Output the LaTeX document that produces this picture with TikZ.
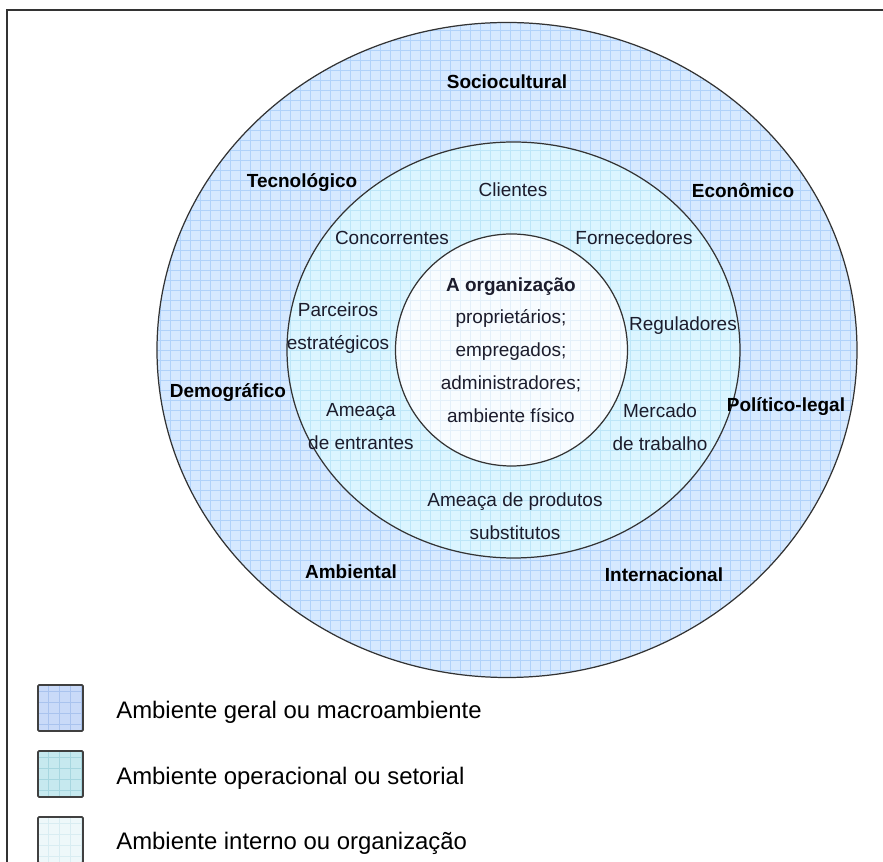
\documentclass[tikz,border=0pt]{standalone}
\usepackage{fontspec}
\setmainfont{Liberation Sans}
\usepackage{tikz}
\usepackage{xcolor}
\usetikzlibrary{calc, positioning}
\definecolor{geralfill}{HTML}{D6E9FF}
\definecolor{geralgrid}{HTML}{B0D2FA}
\definecolor{operfill}{HTML}{DBF5FF}
\definecolor{opergrid}{HTML}{BDE6F8}
\definecolor{internofill}{HTML}{F8FCFF}
\definecolor{internogrid}{HTML}{E4F0FA}
\definecolor{leg1fill}{HTML}{C9DAF8}
\definecolor{leg1grid}{HTML}{A9C3EE}
\definecolor{leg2fill}{HTML}{C6E9EF}
\definecolor{leg2grid}{HTML}{A6D6DF}
\definecolor{leg3fill}{HTML}{EEF8FA}
\definecolor{leg3grid}{HTML}{D9EDF2}
\definecolor{rotulo}{HTML}{1C1C2C}
\newcommand{\fator}[1]{\textbf{#1}}

\begin{document}
\begin{tikzpicture}[
    rotulo/.style={text=rotulo, align=center, inner sep=1pt, font=\fontsize{10.8}{18.7}\selectfont},
    fatorbox/.style={rotulo, text=black},
    legtexto/.style={anchor=west, text=black, inner sep=0pt, font=\fontsize{13.6}{16}\selectfont},
    anel/.style={draw=black!80, line width=0.7pt},
    legbox/.style={draw=black!75, line width=1pt, rounded corners=0.6pt}
]
\useasboundingbox (-10.2,-10.24) rectangle (7.46,7.0);

% moldura
\draw[black!80, line width=0.8pt] (-10.06,-10.4) -- (-10.06,6.8) -- (7.6,6.8);

% ambiente geral
\begin{scope}
    \clip (-0.06,0) ellipse [x radius=7, y radius=6.55];
    \fill[geralfill] (-7.1,-6.6) rectangle (7.1,6.6);
    \draw[geralgrid, line width=0.3pt, step=0.2] (-7.1,-6.6) grid (7.1,6.6);
\end{scope}
% ambiente operacional
\begin{scope}
    \clip (0.07,0) ellipse [x radius=4.53, y radius=4.16];
    \fill[operfill] (-4.6,-4.2) rectangle (4.7,4.2);
    \draw[opergrid, line width=0.3pt, step=0.2] (-4.6,-4.2) grid (4.7,4.2);
\end{scope}
% ambiente interno
\begin{scope}
    \clip (0.03,0) circle [radius=2.32];
    \fill[internofill] (-2.4,-2.4) rectangle (2.4,2.4);
    \draw[internogrid, line width=0.3pt, step=0.2] (-2.4,-2.4) grid (2.4,2.4);
\end{scope}
\draw[anel] (-0.06,0) ellipse [x radius=7, y radius=6.55];
\draw[anel] (0.07,0) ellipse [x radius=4.53, y radius=4.16];
\draw[anel] (0.03,0) circle [radius=2.32];

% fatores do macroambiente
\node[fatorbox] (socio) at (-0.06, 5.36) {\fator{Sociocultural}};
\node[fatorbox] (tecno) at (-4.16, 3.34) {\fator{Tecnológico}};
\node[fatorbox] (econ) at (4.66, 3.18) {\fator{Econômico}};
\node[fatorbox] (demo) at (-5.64, -0.86) {\fator{Demográfico}};
\node[fatorbox] (polit) at (5.52, -1.14) {\fator{Político-legal}};
\node[fatorbox] (ambiental) at (-3.18, -4.44) {\fator{Ambiental}};
\node[fatorbox] (inter) at (3.08, -4.5) {\fator{Internacional}};

% ambiente operacional
\node[rotulo] (clientes) at (0.06, 3.2) {Clientes};
\node[rotulo] (concorr) at (-2.36, 2.24) {Concorrentes};
\node[rotulo] (fornec) at (2.48, 2.24) {Fornecedores};
\node[rotulo] (parceiros) at (-3.44, 0.44) {Parceiros\\estratégicos};
\node[rotulo] (regul) at (3.46, 0.48) {Reguladores};
\node[rotulo] (entrantes) at (-2.98, -1.54) {Ameaça\\de entrantes};
\node[rotulo] (mercado) at (3.0, -1.54) {Mercado\\de trabalho};
\node[rotulo] (substit) at (0.1, -3.32) {Ameaça de produtos\\substitutos};

% a organização
\node[rotulo] (org) at (0.02, 0) {\fator{A organização}\\proprietários;\\empregados;\\administradores;\\ambiente físico};

% legenda
\begin{scope}
    \clip (-9.44,-7.62) rectangle (-8.54,-6.7);
    \fill[leg1fill] (-9.44,-7.62) rectangle (-8.54,-6.7);
    \draw[leg1grid, line width=0.3pt, step=0.22] (-9.44,-7.62) grid (-8.54,-6.7);
\end{scope}
\begin{scope}
    \clip (-9.44,-8.94) rectangle (-8.54,-8.02);
    \fill[leg2fill] (-9.44,-8.94) rectangle (-8.54,-8.02);
    \draw[leg2grid, line width=0.3pt, step=0.22] (-9.44,-8.94) grid (-8.54,-8.02);
\end{scope}
\begin{scope}
    \clip (-9.44,-10.26) rectangle (-8.54,-9.34);
    \fill[leg3fill] (-9.44,-10.26) rectangle (-8.54,-9.34);
    \draw[leg3grid, line width=0.3pt, step=0.22] (-9.44,-10.26) grid (-8.54,-9.34);
\end{scope}
\node[legbox, minimum width=0.9cm, minimum height=0.92cm, inner sep=0pt] (leggeral) at (-8.99,-7.16) {};
\node[legbox, minimum width=0.9cm, minimum height=0.92cm, inner sep=0pt] (legoper) at (-8.99,-8.48) {};
\node[legbox, minimum width=0.9cm, minimum height=0.92cm, inner sep=0pt] (leginterno) at (-8.99,-9.8) {};

\node[legtexto] (txtgeral) at (-7.88,-7.24) {Ambiente geral ou macroambiente};
\node[legtexto] (txtoper) at (-7.88,-8.56) {Ambiente operacional ou setorial};
\node[legtexto] (txtinterno) at (-7.88,-9.86) {Ambiente interno ou organização};
\end{tikzpicture}
\end{document}
